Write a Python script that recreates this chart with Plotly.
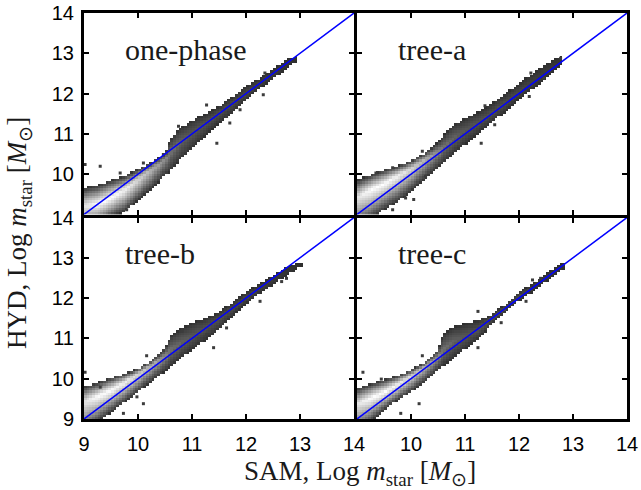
import numpy as np
import plotly.graph_objects as go

# ---------------- data ----------------
panel_names = ["one-phase", "tree-a", "tree-b", "tree-c"]
tick_vals = [9, 10, 11, 12, 13, 14]
tick_text_full = ["9", "10", "11", "12", "13", "14"]
tick_text_cut = ["", "10", "11", "12", "13", "14"]
diag_x = [9, 14]

# column positions (Log SAM m_star) at which the band was read
knots_x = [9.0, 9.25, 9.5, 9.75, 10.0, 10.25, 10.5, 10.6, 10.75, 11.0,
           11.25, 11.5, 11.75, 12.0, 12.25, 12.5, 12.75, 13.0]

# upper edge, lower edge, brightest ridge and brightness of the 2-D histogram band
onephase_upper = [9.65, 9.72, 9.85, 9.95, 10.12, 10.3, 10.5, 10.85, 11.12, 11.33,
                  11.5, 11.68, 11.92, 12.18, 12.38, 12.6, 12.85, 12.95]
onephase_lower = [8.5, 8.7, 8.9, 9.05, 9.33, 9.62, 9.95, 10.05, 10.3, 10.6,
                  10.95, 11.25, 11.52, 11.83, 12.12, 12.35, 12.62, 12.85]
onephase_ridge = [9.2, 9.25, 9.4, 9.6, 9.85, 10.1, 10.35, 10.5, 10.75, 11.0,
                  11.25, 11.5, 11.75, 12.0, 12.25, 12.48, 12.73, 12.9]

treea_upper = [9.85, 9.98, 10.1, 10.2, 10.33, 10.52, 10.78, 10.95, 11.2, 11.38,
               11.55, 11.75, 12.0, 12.25, 12.5, 12.72, 12.92, 12.95]
treea_lower = [8.6, 8.85, 9.1, 9.3, 9.55, 9.85, 10.15, 10.25, 10.45, 10.72,
               11.0, 11.27, 11.55, 11.85, 12.1, 12.38, 12.65, 12.9]
treea_ridge = [9.4, 9.6, 9.75, 9.95, 10.12, 10.35, 10.55, 10.65, 10.85, 11.08,
               11.3, 11.52, 11.78, 12.05, 12.3, 12.55, 12.78, 12.92]

treeb_upper = [9.8, 9.9, 10.02, 10.12, 10.25, 10.45, 10.75, 11.05, 11.22, 11.38,
               11.5, 11.65, 11.9, 12.15, 12.35, 12.55, 12.75, 12.9]
treeb_lower = [8.6, 8.9, 9.15, 9.4, 9.65, 9.92, 10.17, 10.27, 10.45, 10.7,
               10.95, 11.2, 11.55, 11.85, 12.1, 12.32, 12.55, 12.75]
treeb_ridge = [9.4, 9.55, 9.7, 9.9, 10.1, 10.32, 10.55, 10.7, 10.85, 11.05,
               11.25, 11.45, 11.72, 12.0, 12.22, 12.45, 12.65, 12.82]

treec_upper = [9.75, 9.87, 9.97, 10.07, 10.22, 10.4, 10.72, 11.1, 11.27, 11.36,
               11.45, 11.6, 11.85, 12.15, 12.35, 12.6, 12.85, 12.9]
treec_lower = [8.6, 8.9, 9.2, 9.45, 9.65, 9.9, 10.2, 10.3, 10.45, 10.72,
               10.98, 11.35, 11.65, 11.92, 12.15, 12.4, 12.65, 12.85]
treec_ridge = [9.35, 9.5, 9.65, 9.85, 10.05, 10.28, 10.52, 10.7, 10.9, 11.05,
               11.2, 11.47, 11.75, 12.05, 12.25, 12.5, 12.72, 12.88]

band_peak = [0.9, 1.0, 1.0, 0.95, 0.85, 0.7, 0.55, 0.45, 0.4, 0.33,
             0.3, 0.28, 0.26, 0.24, 0.2, 0.17, 0.15, 0.1]
band_end = [12.95, 12.8, 13.05, 12.85]

# isolated single-count bins
onephase_dots_x = [9.02, 9.30, 9.67, 10.10, 10.47, 10.75, 11.46, 11.70, 11.64, 11.89, 12.32, 12.35, 11.27, 9.79]
onephase_dots_y = [10.24, 10.20, 10.03, 10.28, 10.49, 11.19, 10.77, 11.27, 11.43, 11.60, 11.97, 12.51, 11.72, 9.12]
treea_dots_x = [9.35, 9.66, 10.21, 9.90, 10.05, 9.66, 11.30, 11.55, 11.37, 12.22, 12.19, 12.46, 12.77, 10.27]
treea_dots_y = [10.03, 10.16, 10.57, 9.41, 9.37, 9.12, 10.77, 11.23, 11.70, 12.51, 11.93, 12.38, 12.88, 9.95]
treeb_dots_x = [9.02, 9.30, 10.16, 9.98, 10.10, 9.73, 11.40, 11.64, 11.27, 12.26, 12.66, 12.75, 10.81]
treeb_dots_y = [10.16, 9.79, 10.57, 9.55, 9.38, 9.14, 10.77, 11.26, 11.10, 11.92, 12.41, 12.49, 11.18]
treec_dots_x = [9.11, 9.45, 10.21, 9.81, 10.15, 11.24, 11.67, 11.46, 11.24, 12.25, 12.40, 12.13]
treec_dots_y = [10.16, 9.99, 10.57, 9.14, 9.38, 10.77, 11.39, 11.43, 11.67, 12.45, 12.49, 11.92]

bands = [
    (onephase_upper, onephase_lower, onephase_ridge),
    (treea_upper, treea_lower, treea_ridge),
    (treeb_upper, treeb_lower, treeb_ridge),
    (treec_upper, treec_lower, treec_ridge),
]
dots = [
    (onephase_dots_x, onephase_dots_y),
    (treea_dots_x, treea_dots_y),
    (treeb_dots_x, treeb_dots_y),
    (treec_dots_x, treec_dots_y),
]

# ---------------- build histogram images ----------------
xc = np.arange(9.025, 14.0, 0.05)
yc = np.arange(8.53, 14.0, 0.06)


def band_image(upper, lower, ridge, xend):
    up = np.interp(xc, knots_x, upper)
    lo = np.interp(xc, knots_x, lower)
    ri = np.interp(xc, knots_x, ridge)
    pk = np.interp(xc, knots_x, band_peak)
    Y = yc[:, None]
    t_up = (Y - ri[None, :]) / np.maximum(up - ri, 1e-3)[None, :]
    t_lo = (ri[None, :] - Y) / np.maximum(ri - lo, 1e-3)[None, :]
    t = np.where(Y >= ri[None, :], t_up, t_lo)
    floor = 0.1
    val = floor + (np.maximum(pk, floor)[None, :] - floor) * np.clip(1 - t, 0, 1) ** 0.8
    val = np.where((t <= 1.0) & (xc[None, :] <= xend), val, np.nan)
    return val


gray_scale = [[0.0, "#1c1c1c"], [0.35, "#5a5a5a"], [0.7, "#b4b4b4"], [1.0, "#ffffff"]]

fig = go.Figure()
axis_ids = [("x", "y"), ("x2", "y2"), ("x3", "y3"), ("x4", "y4")]

label_font = dict(family="Liberation Serif", size=30, color="#1a1a1a")

for i, (name, (up, lo, ri), (dx, dy), (xa, ya)) in enumerate(zip(panel_names, bands, dots, axis_ids)):
    z = band_image(up, lo, ri, band_end[i])
    fig.add_trace(go.Heatmap(x=xc, y=yc, z=z, colorscale=gray_scale, zmin=0, zmax=1,
                             showscale=False, hoverinfo="skip", xaxis=xa, yaxis=ya))
    fig.add_trace(go.Scatter(x=dx, y=dy, mode="markers",
                             marker=dict(symbol="square", size=3, color="#3c3c3c", line=dict(width=0)),
                             xaxis=xa, yaxis=ya, showlegend=False, hoverinfo="skip"))
    fig.add_trace(go.Scatter(x=diag_x, y=diag_x, mode="lines", line=dict(color="#0000ff", width=1.5),
                             xaxis=xa, yaxis=ya, showlegend=False, hoverinfo="skip"))
    fig.add_annotation(x=9.73, y=13.1, xref=xa, yref=ya, text=name, showarrow=False,
                       xanchor="left", yanchor="middle", font=label_font)

tick_font = dict(family="Liberation Sans, Arial", size=20, color="black")

LW = 3
PW, PH = 543, 406
gx = LW / PW / 2
gy = LW / PH / 2
dom_left = [0, 0.5 - gx]
dom_right = [0.5 + gx, 1]
dom_bottom = [0, 0.5 - gy]
dom_top = [0.5 + gy, 1]


def axis(domain, anchor, labels, show):
    return dict(domain=domain, anchor=anchor, range=[9, 14], tickmode="array",
                tickvals=tick_vals, ticktext=labels, showticklabels=show,
                ticks="inside", ticklen=5, tickwidth=2, tickcolor="black",
                showline=True, linewidth=LW, linecolor="black", mirror="ticks",
                showgrid=False, zeroline=False, tickfont=tick_font, fixedrange=True,
                automargin=False)


fig.update_layout(
    width=641, height=490,
    margin=dict(l=84, r=14, t=13, b=71, autoexpand=False),
    paper_bgcolor="white", plot_bgcolor="white",
    showlegend=False,
    xaxis=axis(dom_left, "y", tick_text_full, False),
    yaxis=axis(dom_top, "x", tick_text_cut, True),
    xaxis2=axis(dom_right, "y2", tick_text_full, False),
    yaxis2=axis(dom_top, "x2", tick_text_full, False),
    xaxis3=axis(dom_left, "y3", tick_text_full, True),
    yaxis3=axis(dom_bottom, "x3", tick_text_full, True),
    xaxis4=axis(dom_right, "y4", tick_text_cut, True),
    yaxis4=axis(dom_bottom, "x4", tick_text_full, False),
)
fig.update_layout(xaxis3_ticklabelstandoff=5, xaxis4_ticklabelstandoff=5,
                  yaxis_ticklabelstandoff=3, yaxis3_ticklabelstandoff=3)

title_font = dict(family="Liberation Serif", size=27, color="#1a1a1a")
fig.add_annotation(x=(360 - 84) / 543, y=(419 - 473) / 406, xref="paper", yref="paper",
                   text="SAM, Log <i>m</i><sub>star</sub> [<i>M</i><sub>⊙</sub>]",
                   showarrow=False, xanchor="center", yanchor="middle", font=title_font)
fig.add_annotation(x=(19 - 84) / 543, y=(419 - 233) / 406, xref="paper", yref="paper",
                   text="HYD, Log <i>m</i><sub>star</sub> [<i>M</i><sub>⊙</sub>]",
                   showarrow=False, xanchor="center", yanchor="middle", textangle=-90, font=title_font)

fig.write_html("out.html")
